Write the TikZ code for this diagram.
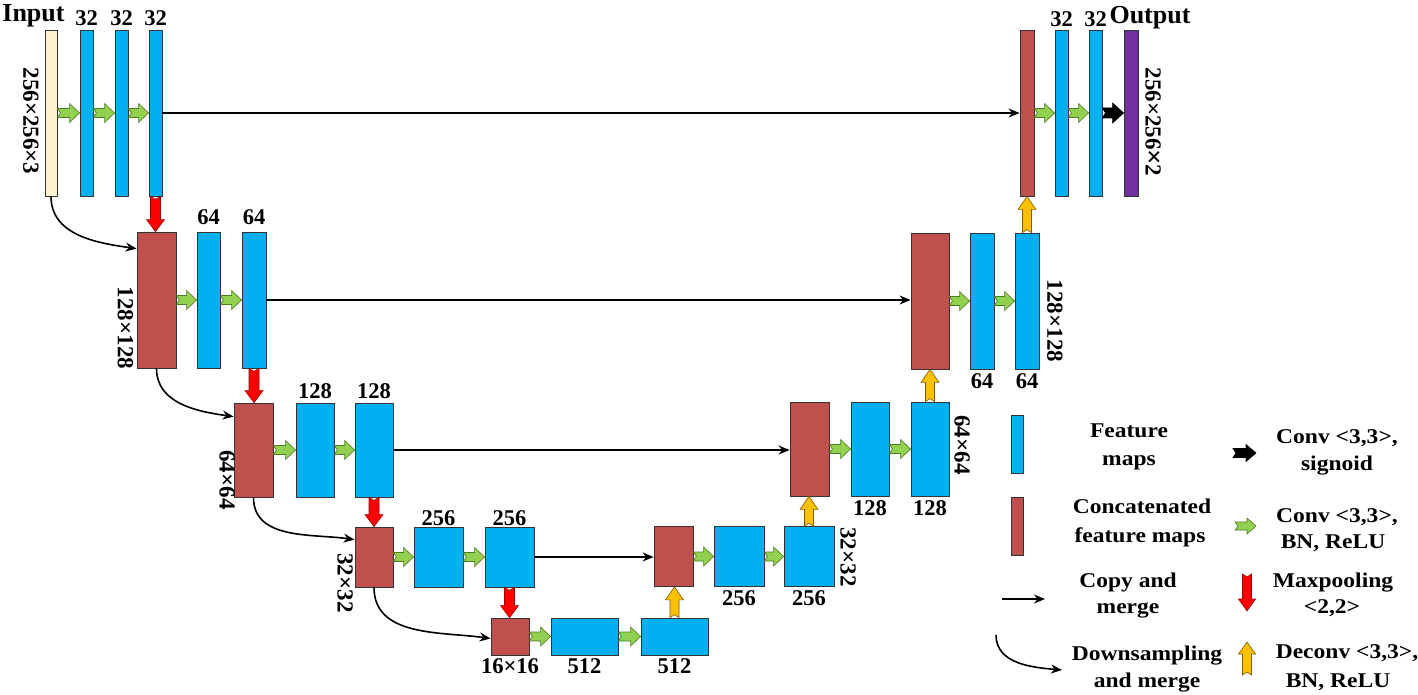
\documentclass[tikz,border=0pt]{standalone}
\usepackage{fontspec}
\setmainfont{Liberation Serif}
\newfontfamily\legfont{Liberation Serif}[FakeStretch=1.12]
\usetikzlibrary{arrows.meta,calc}
\definecolor{fmblue}{HTML}{00B0F0}
\definecolor{cmred}{HTML}{C0504D}
\definecolor{incream}{HTML}{FFF2CC}
\definecolor{outpurp}{HTML}{7030A0}
\definecolor{arrgreen}{HTML}{92D050}
\definecolor{arrgreenD}{HTML}{4E7A24}
\definecolor{arrred}{HTML}{FF0000}
\definecolor{arrredD}{HTML}{A00000}
\definecolor{arryel}{HTML}{FFC000}
\definecolor{arryelD}{HTML}{7F5A00}
\definecolor{boxline}{HTML}{333333}
% horizontal block arrow (right): style, from, to, half shaft, half head, head length
\newcommand\rarr[6]{%
  \filldraw[#1] let \p1=(#2), \p2=(#3) in
   ({\x1},{\y1+#4pt}) -- ({\x2-#6pt},{\y1+#4pt}) -- ({\x2-#6pt},{\y1+#5pt}) -- ({\x2},{\y1})
   -- ({\x2-#6pt},{\y1-#5pt}) -- ({\x2-#6pt},{\y1-#4pt}) -- ({\x1},{\y1-#4pt}) -- ({\x1+3pt},{\y1}) -- cycle;}
% vertical block arrow (down)
\newcommand\darr[6]{%
  \filldraw[#1] let \p1=(#2), \p2=(#3) in
   ({\x1-#4pt},{\y1}) -- ({\x1-#4pt},{\y2+#6pt}) -- ({\x1-#5pt},{\y2+#6pt}) -- ({\x1},{\y2})
   -- ({\x1+#5pt},{\y2+#6pt}) -- ({\x1+#4pt},{\y2+#6pt}) -- ({\x1+#4pt},{\y1}) -- ({\x1},{\y1-3pt}) -- cycle;}
% vertical block arrow (up)
\newcommand\uarr[6]{%
  \filldraw[#1] let \p1=(#2), \p2=(#3) in
   ({\x1-#4pt},{\y1}) -- ({\x1-#4pt},{\y2-#6pt}) -- ({\x1-#5pt},{\y2-#6pt}) -- ({\x1},{\y2})
   -- ({\x1+#5pt},{\y2-#6pt}) -- ({\x1+#4pt},{\y2-#6pt}) -- ({\x1+#4pt},{\y1}) -- ({\x1},{\y1+3pt}) -- cycle;}
\begin{document}
\begin{tikzpicture}[x=1pt,y=1pt,
  bxbase/.style={draw=boxline, line width=0.8pt, inner sep=0pt},
  fmbox/.style={bxbase, fill=fmblue},
  cmbox/.style={bxbase, fill=cmred},
  inbox/.style={bxbase, fill=incream},
  outbox/.style={bxbase, fill=outpurp},
  gArr/.style={fill=arrgreen, draw=arrgreenD, line width=0.6pt},
  rArr/.style={fill=arrred, draw=arrredD, line width=0.6pt},
  yArr/.style={fill=arryel, draw=arryelD, line width=0.6pt},
  kArr/.style={fill=black, draw=black, line width=0.6pt},
  copyarr/.style={-{Stealth[length=11pt,width=9pt]}, line width=1.6pt},
  downarr/.style={-{Stealth[length=11pt,width=9pt]}, line width=1.6pt},
  labtxt/.style={font=\bfseries\fontsize{22.5}{26}\selectfont, inner sep=0pt, anchor=base},
  bigtxt/.style={font=\bfseries\fontsize{26}{30}\selectfont, inner sep=0pt, anchor=base},
  rottxt/.style={font=\bfseries\fontsize{23}{26}\selectfont, inner sep=0pt, rotate=-90},
  legtxt/.style={font=\legfont\bfseries\fontsize{21}{24}\selectfont, inner sep=0pt, anchor=base}]
\useasboundingbox (0,0) rectangle (1418,-695);

% ---------- level 0 ----------
\node[inbox, minimum width=12pt, minimum height=166pt] (in) at (51,-113) {};
\node[fmbox, minimum width=13pt, minimum height=166pt] (b01) at (86.5,-113) {};
\node[fmbox, minimum width=13pt, minimum height=166pt] (b02) at (121.5,-113) {};
\node[fmbox, minimum width=13pt, minimum height=166pt] (b03) at (155.5,-113) {};
\node[cmbox, minimum width=14pt, minimum height=166pt] (r0) at (1027,-113) {};
\node[fmbox, minimum width=13pt, minimum height=166pt] (b04) at (1061.5,-113) {};
\node[fmbox, minimum width=13pt, minimum height=166pt] (b05) at (1095.5,-113) {};
\node[outbox, minimum width=14pt, minimum height=166pt] (out) at (1131,-113) {};

% ---------- level 1 ----------
\node[cmbox, minimum width=39pt, minimum height=136pt] (r1) at (156.5,-300) {};
\node[fmbox, minimum width=23pt, minimum height=136pt] (b11) at (208.5,-300) {};
\node[fmbox, minimum width=24pt, minimum height=136pt] (b12) at (254,-300) {};
\node[cmbox, minimum width=38pt, minimum height=136pt] (r1b) at (930,-301) {};
\node[fmbox, minimum width=24pt, minimum height=136pt] (b13) at (982,-301) {};
\node[fmbox, minimum width=24pt, minimum height=136pt] (b14) at (1027,-301) {};

% ---------- level 2 ----------
\node[cmbox, minimum width=39pt, minimum height=94pt] (r2) at (253.5,-450) {};
\node[fmbox, minimum width=38pt, minimum height=94pt] (b21) at (315,-450) {};
\node[fmbox, minimum width=38pt, minimum height=94pt] (b22) at (374,-450) {};
\node[cmbox, minimum width=39pt, minimum height=94pt] (r2b) at (809.5,-449) {};
\node[fmbox, minimum width=38pt, minimum height=94pt] (b23) at (870,-449) {};
\node[fmbox, minimum width=38pt, minimum height=94pt] (b24) at (930,-449) {};

% ---------- level 3 ----------
\node[cmbox, minimum width=38pt, minimum height=60pt] (r3) at (374,-557) {};
\node[fmbox, minimum width=49pt, minimum height=60pt] (b31) at (438.5,-557) {};
\node[fmbox, minimum width=49pt, minimum height=60pt] (b32) at (509.5,-557) {};
\node[cmbox, minimum width=39pt, minimum height=60pt] (r3b) at (673.5,-556.5) {};
\node[fmbox, minimum width=50pt, minimum height=60pt] (b33) at (739,-556.5) {};
\node[fmbox, minimum width=50pt, minimum height=60pt] (b34) at (809,-556.5) {};

% ---------- level 4 ----------
\node[cmbox, minimum width=38pt, minimum height=37pt] (r4) at (510,-636.5) {};
\node[fmbox, minimum width=67pt, minimum height=37pt] (b41) at (584.5,-636.5) {};
\node[fmbox, minimum width=67pt, minimum height=37pt] (b42) at (674.5,-636.5) {};

% ---------- copy and merge ----------
\draw[copyarr] (b03.east) -- (r0.west);
\draw[copyarr] (b12.east) -- (b12.east -| r1b.west);
\draw[copyarr] (b22.east) -- (b22.east -| r2b.west);
\draw[copyarr] (b32.east) -- (b32.east -| r3b.west);

% ---------- downsampling and merge ----------
\draw[downarr] (in.south) to[out=-90,in=172] ([yshift=-17pt]r1.north west);
\draw[downarr] (r1.south) to[out=-90,in=172] ([yshift=-14pt]r2.north west);
\draw[downarr] (r2.south) to[out=-90,in=172] ([yshift=-13pt]r3.north west);
\draw[downarr] (r3.south) to[out=-90,in=172] ([yshift=-2pt]r4.west);

% ---------- conv arrows ----------
\rarr{gArr}{in.east}{b01.west}{4.5}{9.5}{10}
\rarr{gArr}{b01.east}{b02.west}{4.5}{9.5}{10}
\rarr{gArr}{b02.east}{b03.west}{4.5}{9.5}{10}
\rarr{gArr}{r0.east}{b04.west}{4.5}{9.5}{10}
\rarr{gArr}{b04.east}{b05.west}{4.5}{9.5}{10}
\rarr{kArr}{b05.east}{out.west}{5}{10}{11}
\rarr{gArr}{r1.east}{b11.west}{4.5}{9.5}{10}
\rarr{gArr}{b11.east}{b12.west}{4.5}{9.5}{10}
\rarr{gArr}{r1b.east}{b13.west}{4.5}{9.5}{10}
\rarr{gArr}{b13.east}{b14.west}{4.5}{9.5}{10}
\rarr{gArr}{r2.east}{b21.west}{4.5}{9.5}{10}
\rarr{gArr}{b21.east}{b22.west}{4.5}{9.5}{10}
\rarr{gArr}{r2b.east}{b23.west}{4.5}{9.5}{10}
\rarr{gArr}{b23.east}{b24.west}{4.5}{9.5}{10}
\rarr{gArr}{r3.east}{b31.west}{4.5}{9.5}{10}
\rarr{gArr}{b31.east}{b32.west}{4.5}{9.5}{10}
\rarr{gArr}{r3b.east}{b33.west}{4.5}{9.5}{10}
\rarr{gArr}{b33.east}{b34.west}{4.5}{9.5}{10}
\rarr{gArr}{r4.east}{b41.west}{4.5}{9.5}{10}
\rarr{gArr}{b41.east}{b42.west}{4.5}{9.5}{10}

% ---------- maxpooling ----------
\darr{rArr}{b03.south}{r1.north}{5}{9}{12}
\darr{rArr}{b12.south}{r2.north}{5}{9}{12}
\darr{rArr}{b22.south}{r3.north}{5}{9}{12}
\darr{rArr}{b32.south}{r4.north}{5}{9}{12}

% ---------- deconv ----------
\uarr{yArr}{b42.north}{r3b.south}{4.5}{9}{13}
\uarr{yArr}{b34.north}{r2b.south}{4.5}{9}{13}
\uarr{yArr}{b24.north}{r1b.south}{4.5}{9}{13}
\uarr{yArr}{b14.north}{r0.south}{4.5}{9}{13}

% ---------- labels ----------
\node[bigtxt] (tin) at (33.5,-22) {Input};
\node[bigtxt] (tout) at (1150,-24) {Output};
\node[labtxt] (l01) at (86.5,-26) {32};
\node[labtxt] (l02) at (121.5,-26) {32};
\node[labtxt] (l03) at (155.5,-26) {32};
\node[labtxt] (l04) at (1061.5,-27) {32};
\node[labtxt] (l05) at (1095.5,-27) {32};
\node[rottxt] (d0a) at (31,-121) {256×256×3};
\node[rottxt] (d0b) at (1153,-122) {256×256{\fontsize{27}{27}\selectfont ×}2};

\node[labtxt] (l11) at (208.5,-225) {64};
\node[labtxt] (l12) at (254,-225) {64};
\node[labtxt] (l13) at (982,-388) {64};
\node[labtxt] (l14) at (1027,-388) {64};
\node[rottxt] (d1a) at (125.5,-328) {128×128};
\node[rottxt] (d1b) at (1055,-321) {128×128};

\node[labtxt] (l21) at (315,-398) {128};
\node[labtxt] (l22) at (374,-398) {128};
\node[labtxt] (l23) at (870,-515) {128};
\node[labtxt] (l24) at (930,-515) {128};
\node[rottxt] (d2a) at (227,-480) {64×64};
\node[rottxt] (d2b) at (962,-445) {64×64};

\node[labtxt] (l31) at (438.5,-525) {256};
\node[labtxt] (l32) at (509.5,-525) {256};
\node[labtxt] (l33) at (739,-605) {256};
\node[labtxt] (l34) at (809,-605) {256};
\node[rottxt] (d3a) at (345,-583) {32×32};
\node[rottxt] (d3b) at (848,-557) {32×32};

\node[labtxt] (d4) at (510,-673) {16×16};
\node[labtxt] (l41) at (584.5,-673) {512};
\node[labtxt] (l42) at (674.5,-673) {512};

% ---------- legend ----------
\node[fmbox, minimum width=12pt, minimum height=58pt] (lgfm) at (1017,-444) {};
\node[cmbox, minimum width=12pt, minimum height=58pt] (lgcm) at (1017,-526) {};
\coordinate (lc1) at (1002,-599);
\coordinate (lc2) at (1045,-599);
\draw[copyarr] (lc1) -- (lc2);
\coordinate (ld1) at (996,-635);
\coordinate (ld2) at (1062,-670);
\draw[downarr] (ld1) to[out=-90,in=175] (ld2);
\coordinate (lb1) at (1233,-453);
\coordinate (lb2) at (1256,-453);
\rarr{kArr}{lb1}{lb2}{4.5}{8.5}{10}
\coordinate (lg1) at (1235,-526);
\coordinate (lg2) at (1256,-526);
\rarr{gArr}{lg1}{lg2}{4}{8}{9}
\coordinate (lr1) at (1247,-574);
\coordinate (lr2) at (1247,-611);
\darr{rArr}{lr1}{lr2}{4.5}{8.5}{12}
\coordinate (ly1) at (1247,-675);
\coordinate (ly2) at (1247,-642);
\uarr{yArr}{ly1}{ly2}{4.5}{8.5}{12}

\node[legtxt] (t1a) at (1129,-437) {Feature};
\node[legtxt] (t1b) at (1129,-465) {maps};
\node[legtxt] (t2a) at (1142,-513) {Concatenated};
\node[legtxt] (t2b) at (1140,-542) {feature maps};
\node[legtxt] (t3a) at (1128,-587) {Copy and};
\node[legtxt] (t3b) at (1128,-613) {merge};
\node[legtxt] (t4a) at (1147,-660) {Downsampling};
\node[legtxt] (t4b) at (1147,-687) {and merge};
\node[legtxt] (u1a) at (1337,-443) {Conv <3,3>,};
\node[legtxt] (u1b) at (1337,-470) {signoid};
\node[legtxt] (u2a) at (1337,-522) {Conv <3,3>,};
\node[legtxt] (u2b) at (1333,-548) {BN, ReLU};
\node[legtxt] (u3a) at (1333,-587) {Maxpooling};
\node[legtxt] (u3b) at (1332,-613) {<2,2>};
\node[legtxt] (u4a) at (1347,-658) {Deconv <3,3>,};
\node[legtxt] (u4b) at (1338,-687) {BN, ReLU};
\end{tikzpicture}
\end{document}
